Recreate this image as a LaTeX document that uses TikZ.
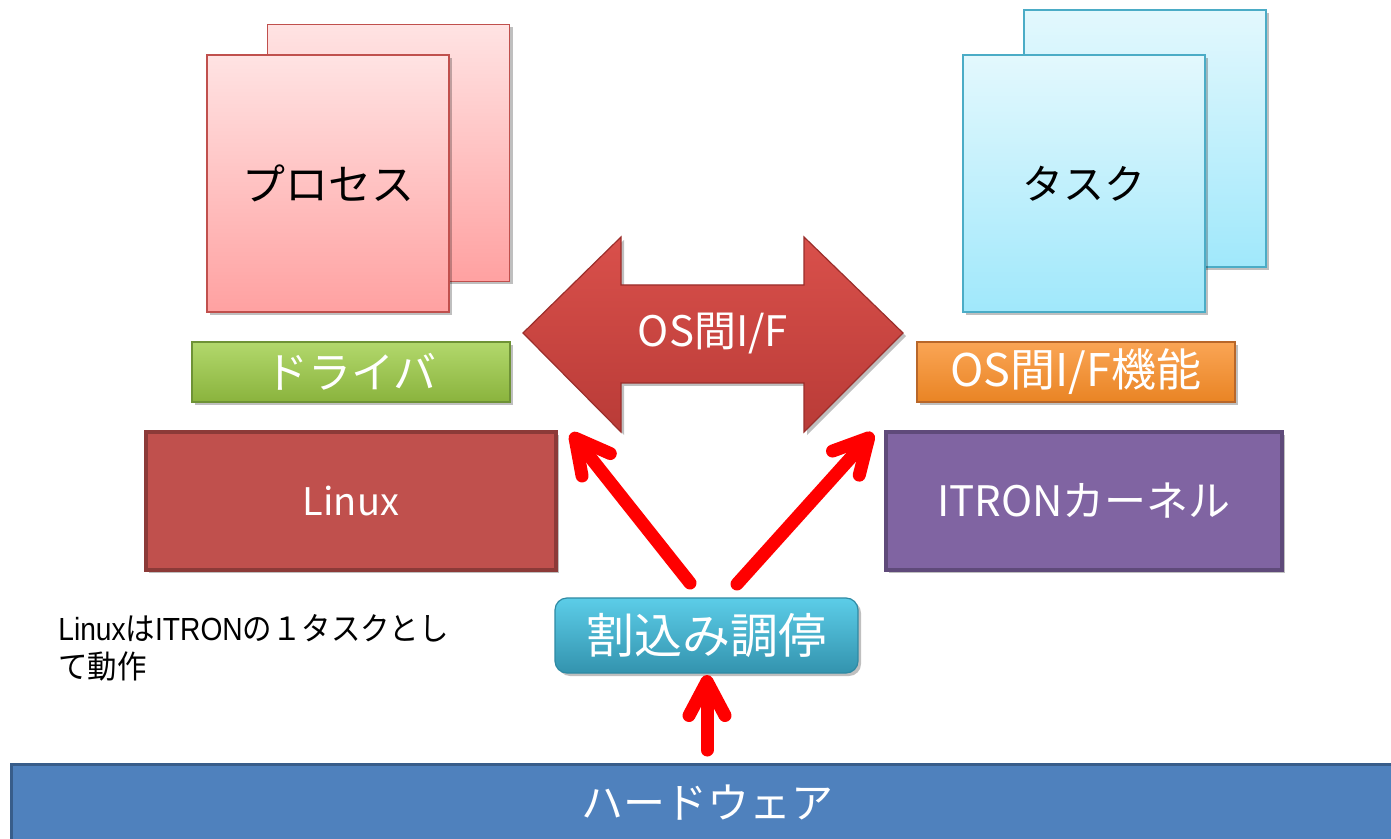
\documentclass[tikz,border=0pt]{standalone}
\usepackage{fontspec}
\setmainfont{Noto Sans CJK JP}
\newfontfamily\arialfont[FakeStretch=0.88]{Liberation Sans}
\newfontfamily\notefont[FakeStretch=0.92]{Noto Sans CJK JP}
\usetikzlibrary{arrows.meta,shadows}
\definecolor{procT}{HTML}{FFE3E3}
\definecolor{procB}{HTML}{FFA1A1}
\definecolor{procL}{HTML}{C0504D}
\definecolor{taskT}{HTML}{E3F8FD}
\definecolor{taskB}{HTML}{A0E8FB}
\definecolor{taskL}{HTML}{4BACC6}
\definecolor{drvT}{HTML}{B2D86C}
\definecolor{drvB}{HTML}{8AB33D}
\definecolor{drvL}{HTML}{6E9236}
\definecolor{osT}{HTML}{FAA555}
\definecolor{osB}{HTML}{E98424}
\definecolor{osL}{HTML}{B8672A}
\definecolor{linF}{HTML}{C0504D}
\definecolor{linL}{HTML}{8C3A38}
\definecolor{itrF}{HTML}{8064A2}
\definecolor{itrL}{HTML}{5F4A7A}
\definecolor{arbT}{HTML}{5CCDE8}
\definecolor{arbB}{HTML}{3393AE}
\definecolor{arbL}{HTML}{2E8AA4}
\definecolor{hwF}{HTML}{4F81BD}
\definecolor{hwL}{HTML}{385D8A}
\definecolor{dblT}{HTML}{D9504B}
\definecolor{dblB}{HTML}{B93B37}
\definecolor{dblL}{HTML}{9B2E2B}
\tikzset{
  shad/.style={drop shadow={shadow xshift=1.5pt,shadow yshift=-1.5pt,opacity=0.25,fill=black}},
  sheetp/.style={draw=procL, line width=0.9pt, top color=procT, bottom color=procB,
    minimum width=121pt, minimum height=128.5pt, inner sep=0pt, shad},
  sheett/.style={draw=taskL, line width=0.9pt, top color=taskT, bottom color=taskB,
    minimum width=121pt, minimum height=128.5pt, inner sep=0pt, shad},
  bar/.style={line width=0.9pt, minimum width=159pt, minimum height=30pt, inner sep=0pt,
    text=white, font=\fontsize{21.5pt}{25pt}\selectfont, shad},
  osbox/.style={line width=2pt, minimum height=69pt, inner sep=0pt,
    text=white, font=\fontsize{19pt}{23pt}\selectfont},
  redarrow/.style={draw=red, line width=6.5pt, line cap=round,
    -{Straight Barb[round,length=17pt,width=18pt]}},
}
\begin{document}
\begin{tikzpicture}[x=0.5pt,y=-0.5pt]
\useasboundingbox (0,0) rectangle (1391,839);
\fill[white] (0,0) rectangle (1391,839);

% process sheets
\node[sheetp] (procback) at (388.5,153) {};
\node[sheetp, font=\fontsize{21.5pt}{25pt}\selectfont] (proc) at (328,183.5) {プロセス};
% task sheets
\node[sheett] (taskback) at (1145,138.5) {};
\node[sheett, font=\fontsize{20.5pt}{24pt}\selectfont] (task) at (1084,183.5) {タスク};

% bars
\node[bar, draw=drvL, top color=drvT, bottom color=drvB] (drv) at (351,372) {ドライバ};
\node[bar, draw=osL, top color=osT, bottom color=osB, font=\fontsize{22.5pt}{26pt}\selectfont] (osif) at (1076,372) {OS間I/F機能};

% OS boxes
\node[osbox, draw=linL, fill=linF, minimum width=205pt, shad] (linux) at (351,501) {Linux};
\node[osbox, draw=itrL, fill=itrF, minimum width=198pt, shad, font=\fontsize{21pt}{25pt}\selectfont] (itron) at (1084,501) {ITRONカーネル};

% double arrow
\path[draw=dblL, line width=0.6pt, top color=dblT, bottom color=dblB, shad]
  (523,333) -- (621,237) -- (621,285) -- (804,285) -- (804,237) -- (903,333)
  -- (804,432) -- (804,383) -- (621,383) -- (621,432) -- cycle;
\node[text=white, font=\fontsize{21pt}{25pt}\selectfont] (osifmid) at (713,334) {OS間I/F};

% arbitration
\node[draw=arbL, line width=0.6pt, top color=arbT, bottom color=arbB, rounded corners=6pt,
  minimum width=151.5pt, minimum height=37.5pt, inner sep=0pt, text=white,
  font=\fontsize{24pt}{28pt}\selectfont, shad] (arb) at (706.5,635.5) {割込み調停};

% hardware
\node[draw=hwL, line width=1.5pt, fill=hwF, minimum width=696pt, minimum height=42pt,
  inner sep=0pt, anchor=north west] (hw) at (10,763) {};
\node[text=white, font=\fontsize{21pt}{25pt}\selectfont] (hwtext) at (707,803) {ハードウェア};

% note
\node[anchor=north west, align=left, inner sep=0pt, font=\notefont\fontsize{16pt}{19pt}\selectfont]
  (note) at (58,614) {{\arialfont Linux}は{\arialfont ITRON}の１タスクとし\\て動作};

% red arrows
\coordinate (l0) at (690,583);
\coordinate (l1) at (571,433);
\coordinate (r0) at (737,584);
\coordinate (r1) at (873,433);
\coordinate (u0) at (707,750);
\coordinate (u1) at (707,675);
\draw[redarrow] (l0) -- (l1);
\draw[redarrow] (r0) -- (r1);
\draw[redarrow] (u0) -- (u1);
\end{tikzpicture}
\end{document}
